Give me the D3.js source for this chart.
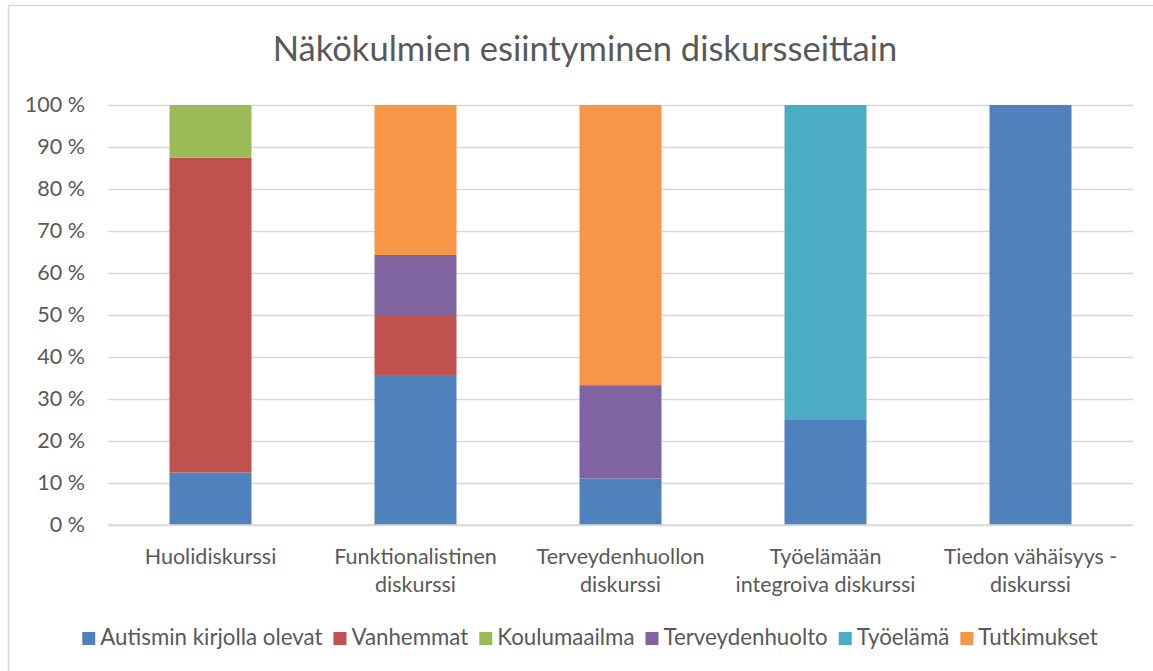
<!DOCTYPE html>
<html><head><meta charset="utf-8">
<script src="https://cdn.jsdelivr.net/npm/d3@7"></script>
<style>body{margin:0;background:#fff;} text{font-family:Lato, "Open Sans", sans-serif;}</style>
</head><body>
<svg id="c" width="1153" height="671"></svg>
<script>
const title = "Näkökulmien esiintyminen diskursseittain";
const categories = ["Huolidiskurssi", "Funktionalistinen\ndiskurssi", "Terveydenhuollon\ndiskurssi", "Työelämään\nintegroiva diskurssi", "Tiedon vähäisyys -\ndiskurssi"];
const seriesNames = ["Autismin kirjolla olevat", "Vanhemmat", "Koulumaailma", "Terveydenhuolto", "Työelämä", "Tutkimukset"];
const seriesColors = ["#4F81BD", "#C0504D", "#9BBB59", "#8064A2", "#4BACC6", "#F79646"];
// shares (%) per category for each series
const autismi      = [12.5, 35.7, 11.1, 25, 100];
const vanhemmat    = [75, 14.3, 0, 0, 0];
const koulumaailma = [12.5, 0, 0, 0, 0];
const terveys      = [0, 14.3, 22.2, 0, 0];
const tyoelama     = [0, 0, 0, 75, 0];
const tutkimukset  = [0, 35.7, 66.7, 0, 0];
const yTicks = [0,10,20,30,40,50,60,70,80,90,100];

const seriesValues = [autismi, vanhemmat, koulumaailma, terveys, tyoelama, tutkimukset];
const rows = categories.map((c,i)=>{const r={cat:c}; seriesNames.forEach((s,j)=>r[s]=seriesValues[j][i]); return r;});
const stack = d3.stack().keys(seriesNames)(rows);

const svg = d3.select("#c");
const txt = "#595959", grid = "#D9D9D9", fs = 21.5;
svg.append("rect").attr("x",8.5).attr("y",5.5).attr("width",1160).attr("height",680)
  .attr("fill","#fff").attr("stroke","#D9D9D9").attr("stroke-width",1.5);

const m = {l:108, r:1133, t:105, b:525};
const x = d3.scaleBand().domain(categories).range([m.l,m.r]).paddingInner(0.6).paddingOuter(0.3);
const y = d3.scaleLinear().domain([0,100]).range([m.b,m.t]);

svg.append("text").attr("x",585).attr("y",61).attr("text-anchor","middle")
  .attr("font-size",34.5).attr("fill",txt).text(title);

const ya = svg.append("g").attr("transform",`translate(${m.l},0)`)
  .call(d3.axisLeft(y).tickValues(yTicks).tickSize(-(m.r-m.l)).tickPadding(23).tickFormat(d=>d+" %"));
ya.select(".domain").remove();
ya.selectAll(".tick line").attr("stroke",grid).attr("stroke-width",1.5);
ya.selectAll(".tick text").attr("font-size",fs).attr("fill",txt).attr("font-family","Lato, sans-serif");

svg.append("g").selectAll("g").data(stack).join("g").attr("fill",(d,i)=>seriesColors[i])
  .selectAll("rect").data(d=>d).join("rect")
  .attr("x",d=>x(d.data.cat)).attr("width",x.bandwidth())
  .attr("y",d=>y(d[1])).attr("height",d=>y(d[0])-y(d[1]));

svg.append("line").attr("x1",m.l).attr("x2",m.r).attr("y1",y(0)).attr("y2",y(0)).attr("stroke",grid).attr("stroke-width",1.5);

const xa = svg.append("g").attr("transform",`translate(0,${m.b})`).call(d3.axisBottom(x).tickSize(0).tickFormat(""));
xa.select(".domain").remove();
xa.selectAll(".tick").each(function(d){
  const t = d3.select(this).append("text").attr("text-anchor","middle").attr("font-size",fs).attr("fill",txt).attr("font-family","Lato, sans-serif");
  d.split("\n").forEach((line,i)=>t.append("tspan").attr("x",0).attr("y",39+i*28).text(line));
});

// legend
const lg = svg.append("g");
let cx = 0;
const gap = 11;
seriesNames.forEach((s,i)=>{
  const g = lg.append("g").attr("transform",`translate(${cx},0)`);
  g.append("rect").attr("x",0).attr("y",-13).attr("width",13).attr("height",13).attr("fill",seriesColors[i]);
  const t = g.append("text").attr("x",18).attr("y",0).attr("font-size",22.3).attr("fill",txt).text(s);
  cx += 18 + t.node().getComputedTextLength() + gap;
});
cx -= gap;
lg.attr("transform",`translate(${590 - cx/2},645)`);
</script>
</body></html>
